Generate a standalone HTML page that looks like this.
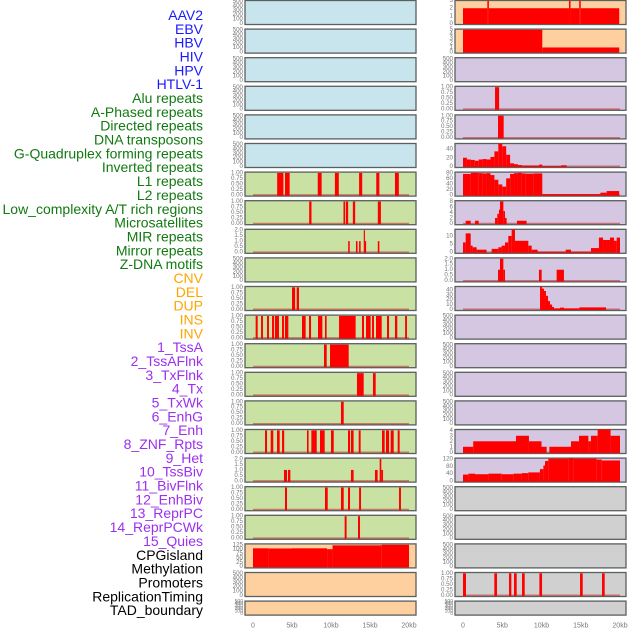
<!DOCTYPE html>
<html><head><meta charset="utf-8">
<style>
body{margin:0;background:#fff;}
svg{display:block;font-family:"Liberation Sans",sans-serif;}
</style></head>
<body>
<svg id="chart" width="630" height="630" viewBox="0 0 630 630">
<g id="labels"></g>
<g id="panels"></g>
<g id="xaxes"></g>
</svg>
<script>
// ---------- data ----------
const trackNames = ["AAV2","EBV","HBV","HIV","HPV","HTLV-1","Alu repeats","A-Phased repeats","Directed repeats","DNA transposons","G-Quadruplex forming repeats","Inverted repeats","L1 repeats","L2 repeats","Low_complexity A/T rich regions","Microsatellites","MIR repeats","Mirror repeats","Z-DNA motifs","CNV","DEL","DUP","INS","INV","1_TssA","2_TssAFlnk","3_TxFlnk","4_Tx","5_TxWk","6_EnhG","7_Enh","8_ZNF_Rpts","9_Het","10_TssBiv","11_BivFlnk","12_EnhBiv","13_ReprPC","14_ReprPCWk","15_Quies","CPGisland","Methylation","Promoters","ReplicationTiming","TAD_boundary"];
const trackGroups = ["v","v","v","v","v","v","r","r","r","r","r","r","r","r","r","r","r","r","r","s","s","s","s","s","c","c","c","c","c","c","c","c","c","c","c","c","c","c","c","o","o","o","o","o"];
const xTickLabels = ["0","5kb","10kb","15kb","20kb"];
const xTickValues = [0,5,10,15,20];
const emptyTicks = [0,100,200,300,400,500];
const binTicks = [0,0.25,0.5,0.75,1];
const twoTicks = [0,0.5,1,1.5,2];

// segments: [startKb, endKb, value]
const left6 = [[3.1,3.9,1],[4.1,4.7,1],[8.3,8.8,1],[10.5,11.0,1],[13.6,14.0,1],[15.8,16.2,1],[18.2,18.7,1]];
const left7 = [[7.2,7.5,1],[11.6,11.8,1],[11.9,12.2,1],[12.8,13.1,1],[16.0,16.4,1]];
const left8 = [[12.2,12.4,1],[13.2,13.4,1],[13.6,13.8,1],[14.2,14.35,2],[14.35,14.5,1],[16.0,16.2,1]];
const left10 = [[5.0,5.4,1],[5.6,5.9,1]];
const left11 = [[0.34,0.6,1],[1.03,1.28,1],[1.8,2.05,1],[2.44,2.7,1],[2.82,3.33,1],[3.72,3.97,1],[4.1,4.53,1],[6.28,6.75,1],[7.18,7.44,1],[8.33,8.89,1],[9.23,9.44,1],[11.03,13.16,1],[13.97,14.23,1],[14.49,15.08,1],[15.26,15.51,1],[15.77,16.5,1],[17.18,17.44,1],[18.2,18.5,1],[19.5,19.74,1]];
const left12 = [[9.1,9.45,1],[9.87,12.27,1]];
const left13 = [[13.33,14.19,1],[15.38,15.73,1]];
const left14 = [[11.28,11.63,1]];
const left15 = [[1.54,1.8,1],[2.27,2.6,1],[3.08,3.42,1],[3.72,4.0,1],[6.92,7.13,1],[7.48,8.17,1],[8.59,9.19,1],[10.0,10.35,1],[12.18,12.44,1],[12.56,12.9,1],[13.55,13.8,1],[16.54,16.88,1],[17.05,17.44,1],[17.65,18.04,1],[18.55,18.8,1]];
const left16 = [[3.97,4.36,1],[4.49,4.79,1],[12.56,12.9,1],[15.64,15.98,1],[16.24,16.45,2],[16.45,16.67,1]];
const left17 = [[4.1,4.36,1],[9.23,9.58,1],[11.28,11.63,1],[12.18,12.44,1],[13.6,13.85,1],[18.72,18.97,1]];
const left18 = [[11.75,12.0,1],[13.46,13.72,1]];
const left19 = [[0,2,105],[2,5,104],[5,9.5,105],[9.5,10.2,100],[10.2,16.5,122],[16.5,20,125]];

const right0 = [[0,3.1,2],[3.1,3.3,3],[3.3,13.5,2],[13.5,13.7,3],[13.7,14.8,2],[14.8,15.0,3],[15.0,19.9,2]];
const right1 = [[0,10.1,5],[10.1,19.9,1]];
const right3 = [[4.08,4.6,1]];
const right4 = [[4.46,5.18,1]];
const right5 = [[0,0.5,20],[0.5,1,16],[1,1.5,15],[1.5,2,13],[2,2.5,16],[2.5,3,17],[3,3.5,16],[3.5,4,22],[4,4.5,35],[4.5,5,53],[5,5.5,47],[5.5,6,27],[6,6.5,7],[6.5,7,5],[7,7.5,3],[7.5,9.7,2],[9.7,10.1,4],[10.1,12.5,0.5],[12.5,13.2,2.5]];
const right6 = [[0,1,76],[1,2,80],[2,2.5,79],[2.5,3,78],[3,3.5,79],[3.5,4,72],[4,4.5,55],[4.5,5,38],[5,5.5,30],[5.5,6,60],[6,6.5,76],[6.5,7,79],[7,7.5,80],[7.5,8,78],[8,9,77],[9,10.1,78],[10.1,17.5,3],[17.5,18.3,8],[18.3,19.9,14]];
const right7 = [[0.34,0.98,1],[1.53,2.0,1],[4.08,4.37,2],[4.37,4.58,3.5],[4.58,4.71,5],[4.71,5.14,8],[5.14,5.35,4.5],[5.35,5.56,2],[6.87,8.1,1]];
const right8 = [[0,0.34,6],[0.34,0.98,11.6],[0.98,1.23,4],[1.23,1.74,3],[1.74,3.0,1.5],[3.65,4.5,2],[4.5,4.92,3],[4.92,5.35,4],[5.35,5.77,6],[5.77,6.2,10],[6.2,6.62,14],[6.62,7.26,7],[7.26,8.32,7],[8.32,8.75,4],[8.75,9.51,1.5],[9.51,13.08,0.3],[13.08,13.76,1.5],[13.76,16.3,0.3],[16.3,17.32,2.5],[17.32,17.84,9],[17.84,18.22,7.5],[18.22,18.72,7.5],[18.72,19.24,9],[19.24,19.58,7],[19.58,20,9]];
const right9 = [[4.46,4.71,1],[4.71,5.14,2],[5.14,5.35,1],[9.68,10.02,1],[11.93,12.86,1]];
const right10 = [[9.81,10.06,47],[10.06,10.32,43],[10.32,10.57,38],[10.57,10.83,28],[10.83,11.08,17],[11.08,11.34,10],[11.34,11.59,5],[11.59,12.36,2],[12.36,12.87,3.5],[12.87,14.82,2],[14.82,18.22,4]];
const right15 = [[0,1.3,1],[1.3,6.75,2],[6.75,8.4,3],[8.4,10.0,2],[10.0,10.66,1],[11.0,13.76,1],[13.76,14.78,2],[14.78,15.97,3],[15.97,16.3,2],[16.3,17.15,3],[17.15,18.8,4.3],[18.8,20,3]];
const right16 = [[0,0.68,35],[0.68,1.53,40],[1.53,3.23,37],[3.23,4.93,40],[4.93,6.4,37],[6.4,7.47,40],[7.47,8.32,43],[8.32,9.8,47],[9.8,10.24,65],[10.24,10.45,85],[10.45,10.87,110],[10.87,13.42,123],[13.42,14.06,125],[14.06,17.03,123],[17.03,17.67,118],[17.67,20,113]];
const right20 = [[0,0.38,1],[3.99,4.33,1],[5.86,6.16,1],[6.5,6.84,1],[7.52,7.86,1],[9.73,10.07,1],[14.91,15.25,1],[17.71,18.05,1]];

// ---------- layout ----------
const NS = "http://www.w3.org/2000/svg";
const svg = document.getElementById('chart');
const gL = document.getElementById('labels');
const gP = document.getElementById('panels');
const gX = document.getElementById('xaxes');
function mk(tag, attrs, parent){const e=document.createElementNS(NS,tag);for(const k in attrs)e.setAttribute(k,attrs[k]);parent.appendChild(e);return e;}

const groupColor = {v:"#1a1aff",r:"#117a11",s:"#ffa500",c:"#9b30ee",o:"#000000"};
trackNames.forEach((n,i)=>{
  const t = mk('text',{x:203,y:15+13.84*i,'text-anchor':'end','dominant-baseline':'central','font-size':14,fill:groupColor[trackGroups[i]]},gL);
  t.textContent = n;
  
  
});

const cols = [{x1:245,x2:416,x0:253,k:7.8},{x1:455,x2:626,x0:463,k:7.85}];
const bg = {v:"#c8e4ec",r:"#c9e2a4",s:"#ffd09f",c:"#d5c6e2",o:"#d0d0d0"};
const fmt2 = v=>v.toFixed(2);
const fmt1 = v=>v.toFixed(1);
const fmt0 = v=>String(v);
const specs = [];
for(let r=0;r<22;r++){
  const grp = r<6?'v':(r<19?'r':'s');
  specs.push([0,r,grp,null,emptyTicks,520,fmt0]);
}
for(let r=0;r<22;r++){
  const grp = r<2?'s':(r<17?'c':'o');
  specs.push([1,r,grp,null,emptyTicks,520,fmt0]);
}
function setL(r,d,t,m,f){specs[r][3]=d;specs[r][4]=t;specs[r][5]=m;specs[r][6]=f;}
function setR(r,d,t,m,f){specs[22+r][3]=d;specs[22+r][4]=t;specs[22+r][5]=m;specs[22+r][6]=f;}
setL(6,left6,binTicks,1.03,fmt2);setL(7,left7,binTicks,1.03,fmt2);setL(8,left8,twoTicks,2.06,fmt1);
setL(10,left10,binTicks,1.03,fmt2);setL(11,left11,binTicks,1.03,fmt2);setL(12,left12,binTicks,1.03,fmt2);
setL(13,left13,binTicks,1.03,fmt2);setL(14,left14,binTicks,1.03,fmt2);setL(15,left15,binTicks,1.03,fmt2);
setL(16,left16,twoTicks,2.06,fmt1);setL(17,left17,binTicks,1.03,fmt2);setL(18,left18,binTicks,1.03,fmt2);
setL(19,left19,[0,25,50,75,100,125],129,fmt0);
setR(0,right0,[0,1,2,3],3,fmt0);setR(1,right1,[0,1,2,3,4,5],5.1,fmt0);
setR(3,right3,binTicks,1.03,fmt2);setR(4,right4,binTicks,1.03,fmt2);
setR(5,right5,[0,20,40],53,fmt0);setR(6,right6,[0,20,40,60,80],82,fmt0);
setR(7,right7,[0,2,4,6,8],8.2,fmt0);setR(8,right8,[0,5,10],14,fmt0);
setR(9,right9,twoTicks,2.06,fmt1);setR(10,right10,[0,10,20,30,40],47,fmt0);
setR(15,right15,[0,1,2,3,4],4.1,fmt0);setR(16,right16,[0,40,80,120],125,fmt0);
setR(20,right20,binTicks,1.03,fmt2);

specs.forEach(([c,r,grp,data,ticks,ymax,f])=>{
  const col = cols[c];
  const top = r*28.6;
  const h = r===21?15:25;
  const base = top+h-1.7, yTop = top+0.7;
  const yS = v=>base-(v/ymax)*(base-yTop);
  const xS = kb=>col.x0+kb*col.k;
  const g = mk('g',{},gP);
  
  
  const bgRect = mk('rect',{x:col.x1,y:top+0.5,width:col.x2-col.x1,height:h-1,fill:bg[grp],stroke:'#5a5f5f','stroke-width':1.3},g);
  
  
  ticks.forEach(tv=>{
    const t = mk('text',{x:col.x1-2,y:yS(tv),'text-anchor':'end','dominant-baseline':'central','font-size':h<20?5:6.2,fill:'#777'},g);
    t.textContent = f(tv);
    
    
  });
  if(data){
    if(grp!=='s'){
      const bl = mk('line',{x1:xS(0),x2:xS(20),y1:base,y2:base,stroke:'rgba(190,40,40,0.55)','stroke-width':1.5},g);
      
      
    }
    data.forEach(([a,b,v])=>{
      const y = Math.max(yS(v),top+0.5);
      const bar = mk('rect',{x:xS(a),y:y,width:Math.max(xS(b)-xS(a),1.2),height:(top+h-1)-y,fill:'#ff0000'},g);
      
      
    });
  }
});

cols.forEach((col,ci)=>{
  xTickValues.forEach((v,i)=>{
    const t = mk('text',{x:col.x0+v*col.k,y:626,'text-anchor':'middle','dominant-baseline':'central','font-size':7,fill:'#777'},gX);
    t.textContent = xTickLabels[i];
    
    
  });
});
</script>
</body></html>
